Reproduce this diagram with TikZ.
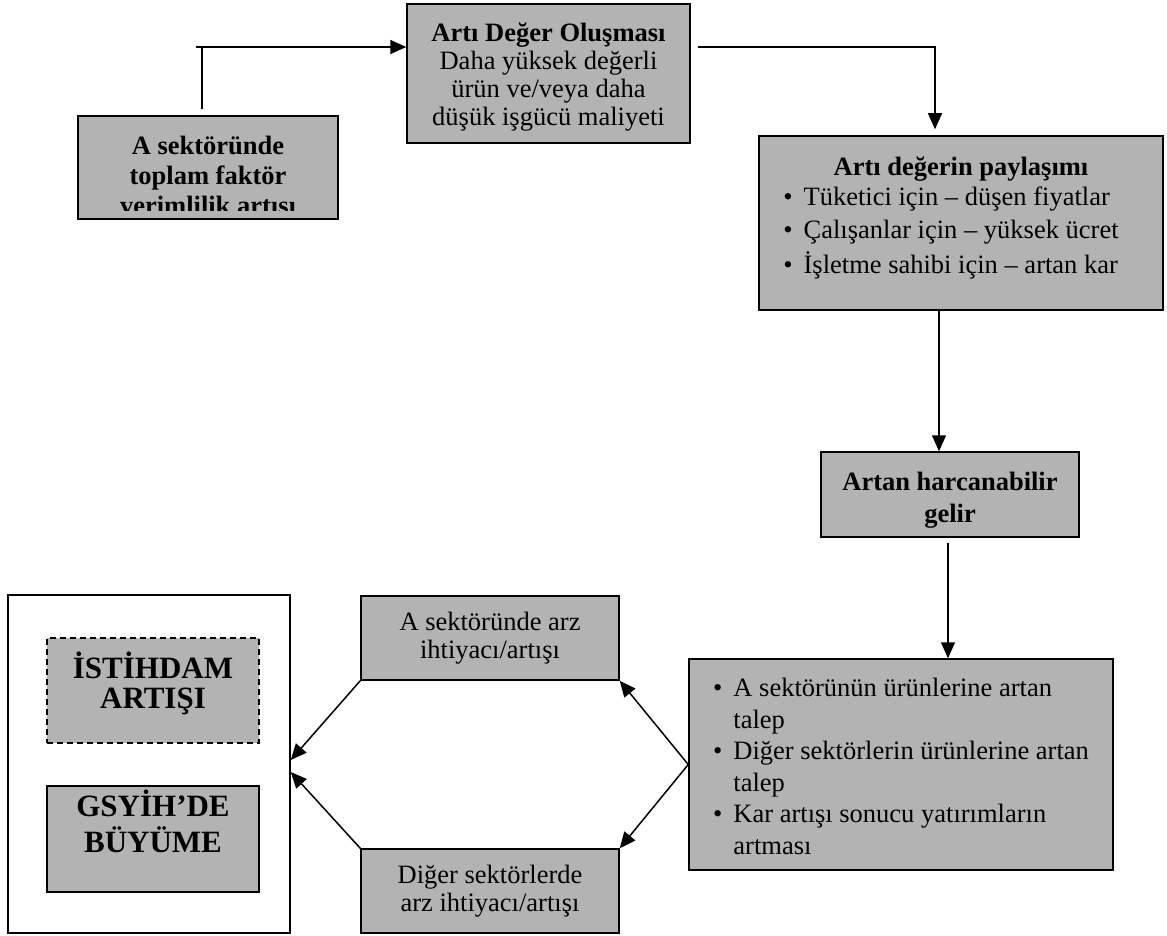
\documentclass[tikz,border=0pt]{standalone}
\usepackage{fontspec}
\setmainfont{Liberation Serif}
\usepackage{tikz}
\definecolor{kutugri}{RGB}{179,179,179}
\tikzset{
kutu/.style={draw, fill=kutugri, line width=1.5pt, inner sep=0pt, align=center, font=\fontsize{26.5}{28}\selectfont},
kalin/.style={kutu, font=\fontsize{26.5}{30}\selectfont\bfseries},
kalin2/.style={kutu, font=\fontsize{26.5}{32}\selectfont\bfseries},
buyuk/.style={kutu, font=\fontsize{31}{30}\selectfont\bfseries},
cerceve/.style={draw, fill=white, line width=1.5pt},
cizgi/.style={line width=1.5pt},
ok/.style={cizgi, -{Triangle[length=16pt, width=14pt]}}
}
\usetikzlibrary{arrows.meta, calc}
\newcommand{\madde}{\textbullet}

\begin{document}
\begin{tikzpicture}[x=1pt, y=-1pt]
			\useasboundingbox (0,0) rectangle (1167,936);
			\node[kalin, minimum width=260, minimum height=103] (tfp) at (208,167.5) {};
			\begin{scope}
			\clip (tfp.north west) rectangle ([yshift=9pt]tfp.south east);
			\node[font=\fontsize{26.5}{30}\selectfont\bfseries, align=center, inner sep=0pt, anchor=north] (tfpyazi) at ([yshift=-21pt]tfp.north) {A sektöründe\\toplam faktör\\verimlilik artısı};
			\end{scope}
			\node[kutu, minimum width=283, minimum height=139] (ado) at (548.5,73.5) {\textbf{Artı Değer Oluşması}\rule{0pt}{26pt}\\Daha yüksek değerli\\ürün ve/veya daha\\düşük işgücü maliyeti};
			\node[kutu, minimum width=404, minimum height=174] (paylasim) at (961,223) {\textbf{Artı değerin paylaşımı}\\[2pt]\begin{tabular}[t]{@{}c@{\hspace{11pt}}l@{\hspace{20pt}}}
				\madde & Tüketici için – düşen fiyatlar\\[5pt]
				\madde & Çalışanlar için – yüksek ücret\\[5pt]
				\madde & İşletme sahibi için – artan kar\rule[-15pt]{0pt}{0pt}
			\end{tabular}};
			\node[kalin2, minimum width=258, minimum height=85] (harcanabilir) at (950,494.5) {Artan harcanabilir\rule{0pt}{30pt}\\gelir};
			\node[kutu, minimum width=424, minimum height=211] (talep) at (901,764.5) {\begin{tabular}{@{}c@{\hspace{11pt}}l@{}}
				\madde & A sektörünün ürünlerine artan\rule{0pt}{30pt}\\[3.5pt]
				& talep\\[3.5pt]
				\madde & Diğer sektörlerin ürünlerine artan\\[3.5pt]
				& talep\\[3.5pt]
				\madde & Kar artışı sonucu yatırımların\\[3.5pt]
				& artması
			\end{tabular}};
			\node[kutu, minimum width=258, minimum height=84] (arzA) at (490,638) {A sektöründe arz\\ihtiyacı/artışı};
			\node[kutu, minimum width=258, minimum height=84] (arzB) at (490,891) {Diğer sektörlerde\\arz ihtiyacı/artışı};
			% ----
			\node[cerceve, minimum width=282, minimum height=338] (sonuc) at (149,764) {};
			\node[buyuk, dash pattern=on 6pt off 4pt, minimum width=212, minimum height=105] (istihdam) at (153,690.5) {İSTİHDAM\\ARTIŞI\rule[-20pt]{0pt}{0pt}};
			\node[buyuk, font=\fontsize{31}{36}\selectfont\bfseries, minimum width=212, minimum height=106] (gsyih) at (153,839) {GSYİH’DE\\BÜYÜME\rule[-35pt]{0pt}{0pt}};
			% ----
			\coordinate (ok1) at ([yshift=26.5pt]ado.west);
			\draw[cizgi] ([xshift=-6pt,yshift=6pt]tfp.north) -- ([xshift=-6pt]tfp.north |- ok1);
			\draw[ok] ([xshift=-12pt]tfp.north |- ok1) -- (ok1);
			\draw[ok, shorten >=6pt] ([xshift=7pt,yshift=26.5pt]ado.east) -| ([xshift=-26pt]paylasim.north);
			\draw[ok] ([xshift=-22pt]paylasim.south) -- ([xshift=-22pt]paylasim.south |- harcanabilir.north);
			\draw[ok] ([xshift=-2pt,yshift=-5pt]harcanabilir.south) -- ([xshift=-2pt]harcanabilir.south |- talep.north);
			% ----
			\draw[ok] (talep.west) -- (arzA.south east);
			\draw[ok] (talep.west) -- (arzB.north east);
			\draw[ok] (arzA.south west) -- ([yshift=4pt]sonuc.east);
			\draw[ok] (arzB.north west) -- ([yshift=-8pt]sonuc.east);
		\end{tikzpicture}
\end{document}
